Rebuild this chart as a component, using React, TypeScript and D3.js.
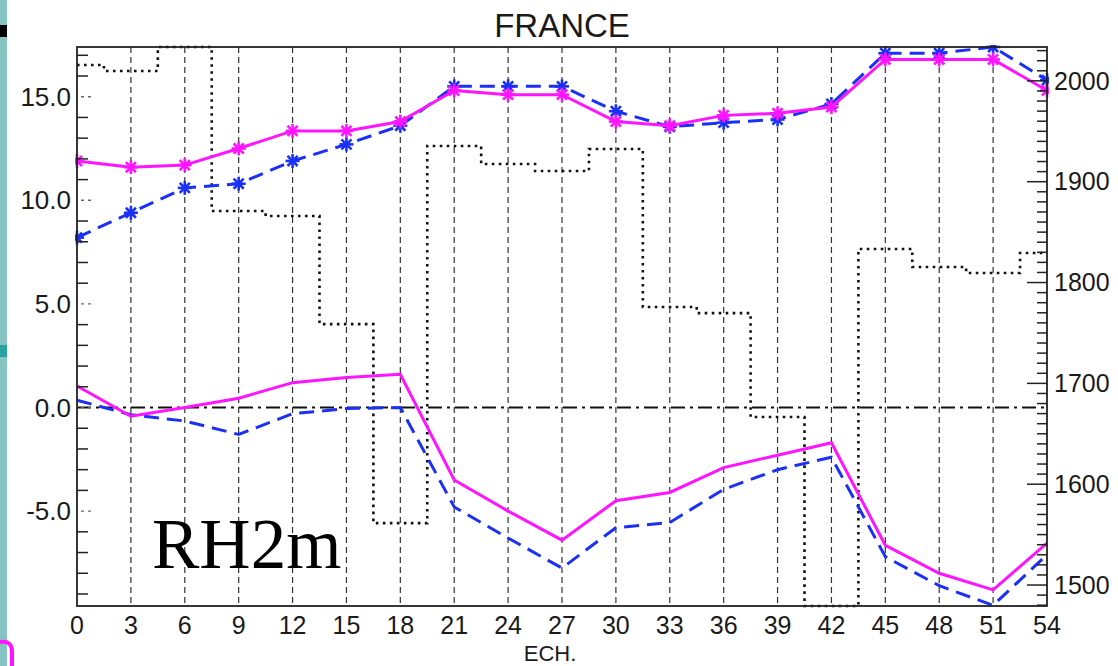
import React from 'react';
import * as d3 from 'd3';

const ech = [0, 3, 6, 9, 12, 15, 18, 21, 24, 27, 30, 33, 36, 39, 42, 45, 48, 51, 54];
const meanExp = [11.9, 11.6, 11.7, 12.5, 13.35, 13.35, 13.8, 15.3, 15.1, 15.1, 13.8, 13.6, 14.1, 14.2, 14.5, 16.8, 16.8, 16.8, 15.3];
const meanRef = [8.2, 9.4, 10.6, 10.8, 11.9, 12.7, 13.6, 15.5, 15.5, 15.5, 14.3, 13.55, 13.75, 13.9, 14.65, 17.1, 17.1, 17.4, 15.8];
const biasExp = [1.04, -0.42, 0.0, 0.45, 1.2, 1.45, 1.6, -3.5, -5.0, -6.4, -4.5, -4.1, -2.9, -2.3, -1.7, -6.65, -8.0, -8.8, -6.55];
const biasRef = [0.35, -0.35, -0.65, -1.3, -0.3, -0.05, 0.0, -4.8, -6.3, -7.75, -5.8, -5.55, -3.95, -3.0, -2.4, -7.2, -8.6, -9.55, -7.1];
const countVals = [2015.8, 2009.8, 2033.6, 1870.9, 1866, 1758.8, 1561.4, 1935.4, 1917.6, 1910.6, 1932.4, 1775.7, 1769.7, 1666.6, 1479.2, 1833.3, 1815.4, 1809.5, 1829.3];
const leftTicks = [15, 10, 5, 0, -5];
const rightTicks = [2000, 1900, 1800, 1700, 1600, 1500];

const L = 77, R = 1047, T = 47, B = 606;
const MAG = '#ff14ff';
const BLUE = '#1a30f5';
const FONT = '"Liberation Sans", Arial, Helvetica, sans-serif';

function Star({ cx, cy, color }: { cx: number; cy: number; color: string }) {
  const a = 7;
  const d = a * 0.72;
  return (
    <g stroke={color} strokeWidth={2.6}>
      <line x1={cx - a} y1={cy} x2={cx + a} y2={cy} />
      <line x1={cx} y1={cy - a} x2={cx} y2={cy + a} />
      <line x1={cx - d} y1={cy - d} x2={cx + d} y2={cy + d} />
      <line x1={cx - d} y1={cy + d} x2={cx + d} y2={cy - d} />
    </g>
  );
}

export default function App() {
  const x = d3.scaleLinear().domain([0, 54]).range([L, R]);
  const y = d3.scaleLinear().domain([-9.58, 17.4]).range([B, T]);
  const y2 = d3.scaleLinear().domain([1479.2, 2033.6]).range([B, T]);

  const line = d3.line<number>().x((_, i) => x(ech[i])).y((v) => y(v));
  const step = d3.line<number>().x((_, i) => x(ech[i])).y((v) => y2(v)).curve(d3.curveStep);

  const leftMinor = d3.range(-9, 18).filter((v) => v % 5 !== 0);
  const rightMinor = d3.range(1480, 2040, 10).filter((v) => v % 100 !== 0);

  return (
    <svg width={1118} height={666} style={{ position: 'absolute', left: 0, top: 0, background: '#fff' }}>
      <defs>
        <clipPath id="plot">
          <rect x={L - 2} y={T - 2} width={R - L + 4} height={B - T + 4} />
        </clipPath>
      </defs>
      <rect x={0} y={0} width={1118} height={666} fill="#fff" />
      {/* left side decoration */}
      <rect x={0} y={0} width={7} height={666} fill="#86c4c4" />
      <rect x={0} y={25} width={7} height={12} fill="#000" />
      <rect x={0} y={345} width={7} height={12} fill="#2aa3a3" />
      <path d="M0,642 Q12,640 12,652 L12,666" fill="none" stroke={MAG} strokeWidth={4} />

      {/* vertical grid */}
      {ech.filter((e) => e > 0 && e < 54).map((e) => (
        <line key={'g' + e} x1={x(e)} x2={x(e)} y1={T} y2={B} stroke="#333" strokeWidth={1.2} strokeDasharray="6,4" />
      ))}

      <g clipPath="url(#plot)">
        {/* zero line */}
        <line x1={L} x2={R} y1={y(0)} y2={y(0)} stroke="#111" strokeWidth={2} strokeDasharray="14,5,3,5" />
        {/* step dotted */}
        <path d={step(countVals) || ''} fill="none" stroke="#111" strokeWidth={2.6} strokeDasharray="2.6,4.4" />
        {/* bias lines */}
        <path d={line(biasRef) || ''} fill="none" stroke={BLUE} strokeWidth={3} strokeDasharray="15,8" />
        <path d={line(biasExp) || ''} fill="none" stroke={MAG} strokeWidth={3} />
        {/* mean lines */}
        <path d={line(meanRef) || ''} fill="none" stroke={BLUE} strokeWidth={3} strokeDasharray="15,8" />
        {meanRef.map((v, i) => <Star key={'b' + i} cx={x(ech[i])} cy={y(v)} color={BLUE} />)}
        <path d={line(meanExp) || ''} fill="none" stroke={MAG} strokeWidth={3} />
        {meanExp.map((v, i) => <Star key={'m' + i} cx={x(ech[i])} cy={y(v)} color={MAG} />)}
      </g>

      {/* frame */}
      <rect x={L} y={T} width={R - L} height={B - T} fill="none" stroke="#222" strokeWidth={1.8} />

      {/* left ticks */}
      {leftMinor.map((v) => (
        <line key={'lm' + v} x1={L} x2={L + 11} y1={y(v)} y2={y(v)} stroke="#222" strokeWidth={1.5} />
      ))}
      {leftTicks.map((v) => (
        <g key={'lt' + v}>
          <line x1={L + 4} x2={L + 18} y1={y(v)} y2={y(v)} stroke="#666" strokeWidth={1.4} strokeDasharray="3,4" />
          <text x={71} y={y(v)} dy="0.35em" textAnchor="end" fontFamily={FONT} fontSize={26} fill="#1a1a1a">{v.toFixed(1)}</text>
        </g>
      ))}

      {/* right ticks */}
      {rightMinor.map((v) => (
        <line key={'rm' + v} x1={R - 10} x2={R} y1={y2(v)} y2={y2(v)} stroke="#222" strokeWidth={1.5} />
      ))}
      {rightTicks.map((v) => (
        <g key={'rt' + v}>
          <line x1={R - 20} x2={R} y1={y2(v)} y2={y2(v)} stroke="#222" strokeWidth={1.5} />
          <text x={1054} y={y2(v)} dy="0.35em" textAnchor="start" fontFamily={FONT} fontSize={25} fill="#1a1a1a">{v}</text>
        </g>
      ))}

      {/* x labels */}
      {ech.map((e) => (
        <text key={'x' + e} x={x(e)} y={634} textAnchor="middle" fontFamily={FONT} fontSize={25} fill="#1a1a1a">{e}</text>
      ))}
      <text x={550} y={661} textAnchor="middle" fontFamily={FONT} fontSize={22} fill="#1a1a1a">ECH.</text>

      {/* title */}
      <text x={562} y={37} textAnchor="middle" fontFamily={FONT} fontSize={33} fill="#1a1a1a">FRANCE</text>

      {/* variable label */}
      <text x={152} y={568} fontFamily='"Liberation Serif", "Times New Roman", serif' fontSize={71} fill="#000">RH2m</text>
    </svg>
  );
}
